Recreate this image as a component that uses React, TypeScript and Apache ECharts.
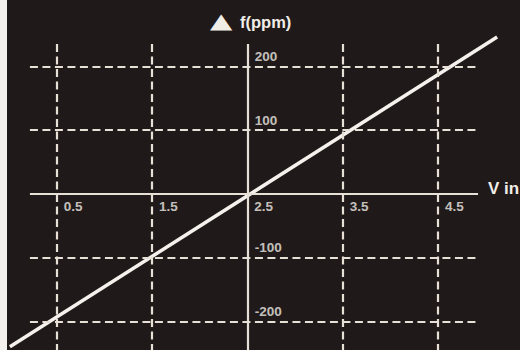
import React, { useEffect, useRef } from "react";
import * as echarts from "echarts";

// Tick labels shown on the axes
const xTicks = [0.5, 1.5, 2.5, 3.5, 4.5];
const yTicks = [-200, -100, 100, 200];
// Dashed grid lines
const xGrid = [0.5, 1.5, 3.5, 4.5];
const yGrid = [-200, -100, 100, 200];
// Axis crossing point (V in, Δf)
const axisCrossV = 2.5;
const axisCrossPpm = 0;
// Extent of the ruled grid area
const gridSpanV = [0.22, 4.92];
const gridSpanPpm = [-245, 235];
// Transfer line: V in vs Δf(ppm)
const responseV = [0.01, 5.12];
const responsePpm = [-240, 246];
// Whole plotting extent
const xRange = [-0.01, 5.36];
const yRange = [-245, 257];

const BG = "#201919";
const INK = "#f1ede7";
const GRID = "#e6e0d6";
const FONT = "'Liberation Sans', Arial, Helvetica, sans-serif";

export default function App() {
  const ref = useRef<HTMLDivElement>(null);

  useEffect(() => {
    if (!ref.current) return;
    const chart = echarts.init(ref.current, undefined, { renderer: "svg" });

    const dashed = { type: [8, 4.5] as any, color: GRID, width: 2.2 };
    const solid = { type: "solid" as const, color: GRID, width: 2.2 };

    const vLine = (v: number, style: any) => [
      { coord: [v, gridSpanPpm[1]], lineStyle: style },
      { coord: [v, gridSpanPpm[0]] },
    ];
    const hLine = (p: number, style: any) => [
      { coord: [gridSpanV[0], p], lineStyle: style },
      { coord: [gridSpanV[1], p] },
    ];

    const labelBase = {
      show: true,
      position: "right" as const,
      distance: 0,
      color: INK,
      fontSize: 13.5,
      fontWeight: "bold" as const,
      fontFamily: FONT,
      align: "left" as const,
      verticalAlign: "middle" as const,
    };

    chart.setOption({
      animation: false,
      backgroundColor: BG,
      grid: { left: 8, right: 0, top: 30, bottom: 0, containLabel: false },
      xAxis: {
        type: "value",
        min: xRange[0],
        max: xRange[1],
        axisLine: { show: false },
        axisTick: { show: false },
        axisLabel: { show: false },
        splitLine: { show: false },
      },
      yAxis: {
        type: "value",
        min: yRange[0],
        max: yRange[1],
        axisLine: { show: false },
        axisTick: { show: false },
        axisLabel: { show: false },
        splitLine: { show: false },
      },
      series: [
        {
          type: "line",
          name: "grid",
          data: [],
          silent: true,
          z: 1,
          markLine: {
            silent: true,
            symbol: ["none", "none"],
            label: { show: false },
            emphasis: { disabled: true },
            data: [
              ...xGrid.map((v) => vLine(v, dashed)),
              ...yGrid.map((p) => hLine(p, dashed)),
              vLine(axisCrossV, solid),
              hLine(axisCrossPpm, solid),
            ],
          },
        },
        {
          type: "line",
          name: "Δf",
          data: responseV.map((v, i) => [v, responsePpm[i]]),
          symbol: "none",
          showSymbol: false,
          clip: false,
          silent: true,
          z: 3,
          lineStyle: { color: "#f5f2ed", width: 3.5, cap: "butt" },
        },
        {
          type: "scatter",
          name: "xLabels",
          data: xTicks.map((v) => [v, axisCrossPpm]),
          symbolSize: 0,
          silent: true,
          z: 4,
          itemStyle: { color: "transparent" },
          label: {
            ...labelBase,
            offset: [7, 12.5],
            formatter: (p: any) => String(p.value[0]),
          },
        },
        {
          type: "scatter",
          name: "yLabels",
          data: yTicks.map((v) => [axisCrossV, v]),
          symbolSize: 0,
          silent: true,
          z: 4,
          itemStyle: { color: "transparent" },
          label: {
            ...labelBase,
            offset: [7.5, -10],
            formatter: (p: any) => String(p.value[1]),
          },
        },
      ],
      graphic: [
        {
          type: "rect",
          silent: true,
          shape: { x: 0, y: 0, width: 7, height: 350 },
          style: { fill: "#f3f1ee" },
          z: 10,
        },
        {
          type: "text",
          x: 210,
          y: 20.5,
          scaleX: 1,
          scaleY: 0.72,
          silent: true,
          style: {
            text: "▲",
            fill: INK,
            fontSize: 29,
            fontFamily: "'DejaVu Sans', sans-serif",
            verticalAlign: "middle",
          },
        },
        {
          type: "text",
          x: 240,
          y: 22,
          silent: true,
          style: {
            text: "f(ppm)",
            fill: INK,
            fontSize: 16.5,
            fontWeight: "bold",
            fontFamily: FONT,
            verticalAlign: "middle",
          },
        },
        {
          type: "text",
          x: 488,
          y: 188,
          silent: true,
          style: {
            text: "V in",
            fill: INK,
            fontSize: 17,
            fontWeight: "bold",
            fontFamily: FONT,
            verticalAlign: "middle",
          },
        },
      ],
    });

    return () => chart.dispose();
  }, []);

  return (
    <div
      ref={ref}
      style={{ position: "absolute", left: 0, top: 0, width: 520, height: 350 }}
    />
  );
}
